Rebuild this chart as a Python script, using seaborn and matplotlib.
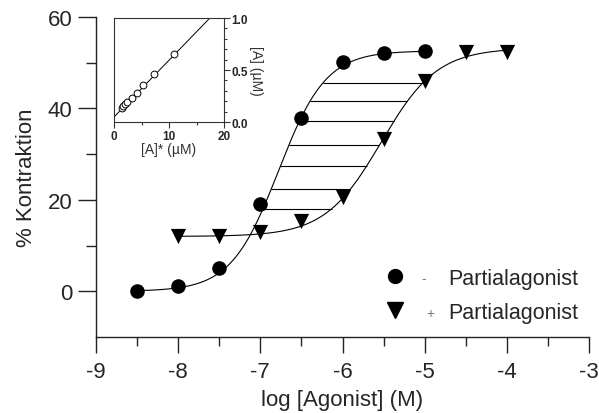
import numpy as np
import pandas as pd
import matplotlib
matplotlib.use("Agg")
import matplotlib.pyplot as plt
from matplotlib.lines import Line2D
from matplotlib.ticker import MultipleLocator, FixedLocator
import seaborn as sns

# ---- data ----
log_minus = [-8.5, -8.0, -7.5, -7.0, -6.5, -6.0, -5.5, -5.0]
resp_minus = [0.0, 1.1, 5.2, 19.0, 38.0, 50.1, 52.1, 52.5]
log_plus = [-8.0, -7.5, -7.0, -6.5, -6.0, -5.5, -5.0, -4.5, -4.0]
resp_plus = [12.1, 12.0, 12.9, 15.4, 20.6, 33.3, 46.0, 52.3, 52.3]

# fitted sigmoid parameters (bottom, top, logEC50, hill)
fit_minus = (0.0, 52.6, -6.78, 1.5)
fit_plus = (12.0, 53.2, -5.53, 1.27)
range_minus = (-8.5, -5.0)
range_plus = (-8.0, -4.0)

hatch_levels = [18.1, 22.3, 27.4, 32.0, 37.2, 41.6, 45.5]

inset_x = [1.5, 1.7, 2.0, 2.4, 3.2, 4.1, 5.2, 7.3, 10.9]
inset_y = [0.137, 0.15, 0.17, 0.19, 0.23, 0.28, 0.36, 0.46, 0.655]
inset_intercept = 0.048
inset_slope = 0.0546

legend_labels = ["Partialagonist", "Partialagonist"]
legend_signs = ["-", "+"]


def sigmoid(x, p):
    b, t, ec, n = p
    return b + (t - b) / (1 + 10 ** ((ec - x) * n))


def inv_sigmoid(y, p):
    b, t, ec, n = p
    return ec - np.log10((t - b) / (y - b) - 1) / n


sns.set_style("ticks")
plt.rcParams["font.family"] = ["Liberation Sans", "DejaVu Sans"]

fig = plt.figure(figsize=(5.99, 4.14), dpi=100)
W, H = 599, 414
ax = fig.add_axes([96 / W, 1 - 338 / H, (589 - 96) / W, (338 - 18) / H])

# fitted curves
xm = np.linspace(*range_minus, 300)
xp = np.linspace(*range_plus, 300)
curves = pd.concat([
    pd.DataFrame({"x": xm, "y": sigmoid(xm, fit_minus), "g": "minus"}),
    pd.DataFrame({"x": xp, "y": sigmoid(xp, fit_plus), "g": "plus"}),
])
sns.lineplot(data=curves, x="x", y="y", units="g", estimator=None,
             color="black", linewidth=0.8, ax=ax, legend=False)

# hatch lines between curves
lv = np.array(hatch_levels)
ax.hlines(lv, inv_sigmoid(lv, fit_minus), inv_sigmoid(lv, fit_plus),
          color="black", linewidth=0.8)

sns.scatterplot(x=log_minus, y=resp_minus, marker="o", s=110, color="black",
                edgecolor="black", linewidth=0, ax=ax, zorder=5)
sns.scatterplot(x=log_plus, y=resp_plus, marker="v", s=120, color="black",
                edgecolor="black", linewidth=0, ax=ax, zorder=5)

ax.set_xlim(-9, -3)
ax.set_ylim(-10, 60)
ax.set_xticks([-9, -8, -7, -6, -5, -4, -3])
ax.set_xticklabels(["-9", "-8", "-7", "-6", "-5", "-4", "-3"])
ax.set_yticks([0, 20, 40, 60])
ax.set_yticklabels(["0", "20", "40", "60"])
ax.xaxis.set_minor_locator(MultipleLocator(0.5))
ax.yaxis.set_minor_locator(FixedLocator([10, 30, 50]))
ax.tick_params(axis="y", which="major", length=13, width=1.0, labelsize=16, pad=4, color="#222222")
ax.tick_params(axis="y", which="minor", length=7, width=1.0, color="#222222")
ax.tick_params(axis="x", which="major", length=11.5, width=1.0, labelsize=16, pad=6, color="#222222")
ax.tick_params(axis="x", which="minor", length=6.5, width=1.0, color="#222222")
for s in ["top", "right"]:
    ax.spines[s].set_visible(False)
for s in ["left", "bottom"]:
    ax.spines[s].set_linewidth(1.0)
    ax.spines[s].set_color("#222222")
ax.set_xlabel("log [Agonist] (M)", fontsize=16, labelpad=5)
ax.set_ylabel("% Kontraktion", fontsize=16, labelpad=8)

# legend
handles = [
    Line2D([], [], marker="o", linestyle="none", color="black", markersize=10),
    Line2D([], [], marker="v", linestyle="none", color="black", markersize=11),
]
fs_leg = 15.5
leg = ax.legend(handles, legend_labels, loc="upper left",
                bbox_to_anchor=((384 - 96) / (589 - 96), 1 - (269 - 18) / (338 - 18)),
                frameon=False, fontsize=fs_leg, handletextpad=1.98, labelspacing=0.6,
                handlelength=1.0, borderaxespad=0, borderpad=0)
fig.text(424 / W, 1 - 279 / H, legend_signs[0], fontsize=10, color="#777777",
         ha="center", va="center")
fig.text(430 / W, 1 - 314 / H, legend_signs[1], fontsize=10, color="#777777",
         ha="center", va="center")

# inset
ax2 = fig.add_axes([114 / W, 1 - 123 / H, (224 - 114) / W, (123 - 19) / H])
xl = np.array([0, 20])
sns.lineplot(x=xl, y=inset_intercept + inset_slope * xl, color="black",
             linewidth=0.7, ax=ax2)
sns.scatterplot(x=inset_x, y=inset_y, marker="o", s=24, facecolor="white",
                edgecolor="black", linewidth=0.7, ax=ax2, zorder=5)
ax2.set_xlim(0, 20)
ax2.set_ylim(0, 1)
ax2.set_xticks([0, 10, 20])
ax2.set_yticks([0.0, 0.5, 1.0])
ax2.set_yticklabels(["0.0", "0.5", "1.0"])
ax2.xaxis.set_minor_locator(MultipleLocator(5))
ax2.yaxis.set_minor_locator(MultipleLocator(0.1))
ax2.yaxis.tick_right()
ax2.yaxis.set_label_position("right")
ax2.tick_params(which="major", length=4, width=0.8, labelsize=8.5, pad=1.5, color="#333333")
ax2.tick_params(which="minor", length=2.5, width=0.8, color="#333333")
for lab in ax2.get_xticklabels() + ax2.get_yticklabels():
    lab.set_fontweight("bold")
for s in ax2.spines.values():
    s.set_linewidth(0.8)
    s.set_color("#333333")
ax2.set_xlabel("[A]* (µM)", fontsize=10, labelpad=0, color="#333333")
ax2.set_ylabel("[A] (µM)", fontsize=10, rotation=-90, labelpad=11, color="#333333")

fig.savefig("out.png", dpi=100)
